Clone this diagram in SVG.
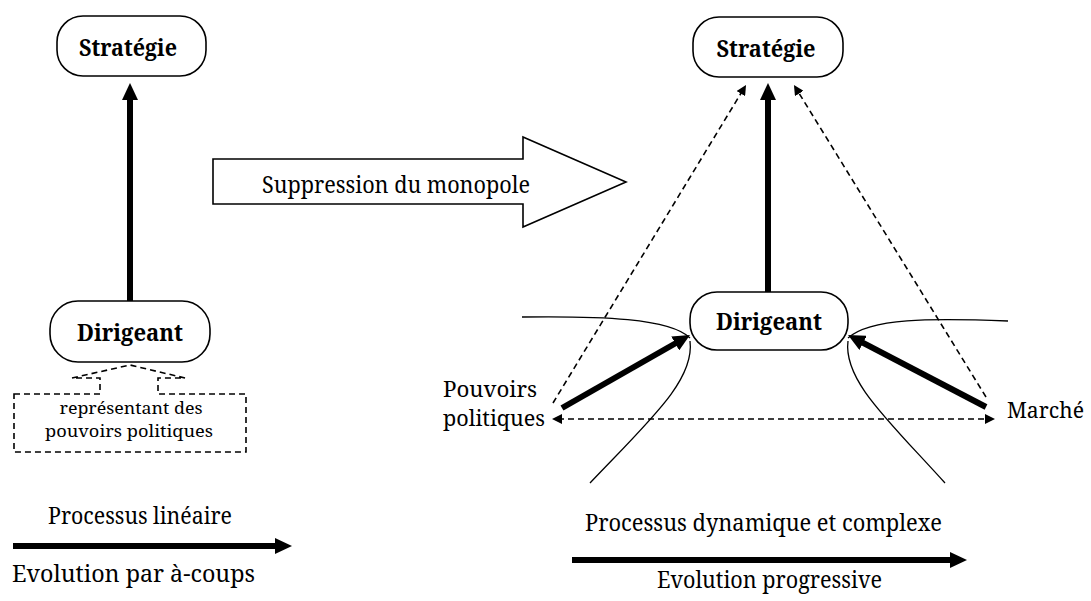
<svg xmlns="http://www.w3.org/2000/svg" width="1091" height="601" viewBox="0 0 1091 601">
<style>
.box{fill:#fff;stroke:#000;stroke-width:1.6}
.lbl{font-family:"Noto Serif","DejaVu Serif",serif;font-weight:bold;font-size:24px;text-anchor:middle;fill:#000}
.txt{font-family:"Noto Serif","DejaVu Serif",serif;font-size:23px;fill:#000}
.side{font-family:"Noto Serif","DejaVu Serif",serif;font-size:21px;fill:#000}
.small{font-family:"Noto Serif","DejaVu Serif",serif;font-size:17px;fill:#000;text-anchor:middle}
.thick{stroke:#000;stroke-width:6;fill:none}
.dash{stroke:#000;stroke-width:1.6;stroke-dasharray:6 4;fill:none}
.thin{stroke:#000;stroke-width:1.3;fill:none}
</style>
<defs>
<marker id="big" markerUnits="userSpaceOnUse" markerWidth="18" markerHeight="16" refX="7" refY="8" orient="auto">
<path d="M0,0 L17,8 L0,16 z" fill="#000"/>
</marker>
<marker id="sm" markerUnits="userSpaceOnUse" markerWidth="11" markerHeight="10" refX="4" refY="5" orient="auto-start-reverse">
<path d="M0,0 L10,5 L0,10 z" fill="#000"/>
</marker>
</defs>

<g id="connectors">
<line class="thick" x1="130" y1="301" x2="130" y2="93" marker-end="url(#big)"/>
<line class="thick" x1="768" y1="292" x2="768" y2="93" marker-end="url(#big)"/>
<line class="dash" x1="553" y1="403" x2="742.9" y2="90.1" marker-end="url(#sm)"/>
<line class="dash" x1="986" y1="397" x2="797.1" y2="90.1" marker-end="url(#sm)"/>
<line class="dash" x1="558" y1="419" x2="989" y2="419" marker-start="url(#sm)" marker-end="url(#sm)"/>
<line class="thick" x1="562" y1="408" x2="681.3" y2="340" marker-end="url(#big)"/>
<line class="thick" x1="986" y1="407" x2="856.9" y2="339.6" marker-end="url(#big)"/>
<path class="thin" d="M522,317 C600,316 670,318 690,338"/>
<path class="thin" d="M690,341 C695,380 650,420 590,483"/>
<path class="thin" d="M1008,321 C930,318 870,318 848,338"/>
<path class="thin" d="M848,341 C843,380 888,420 945,483"/>
<line class="thick" x1="13" y1="546" x2="282" y2="546" marker-end="url(#big)"/>
<line class="thick" x1="572" y1="560" x2="957" y2="560" marker-end="url(#big)"/>
</g>

<g id="block-arrow">
<path d="M213,159 L523,159 L523,137 L626,182 L523,227 L523,204 L213,204 Z" fill="#fff" stroke="#000" stroke-width="1.6"/>
<text class="txt" x="262" y="193" textLength="268" lengthAdjust="spacingAndGlyphs">Suppression du monopole</text>
</g>

<g id="strategie-left">
<rect class="box" x="57" y="16" width="149" height="60" rx="26"/>
<text class="lbl" x="128" y="56" textLength="98" lengthAdjust="spacingAndGlyphs">Stratégie</text>
</g>

<g id="dirigeant-left">
<rect class="box" x="50" y="301" width="160" height="61" rx="28"/>
<text class="lbl" x="130" y="341" textLength="106" lengthAdjust="spacingAndGlyphs">Dirigeant</text>
</g>

<g id="callout">
<path d="M14,394 L100,394 L100,378 L72,378 L130,365 L185,378 L158,378 L158,394 L246,394 L246,452 L14,452 Z" fill="#fff" stroke="#000" stroke-width="1.6" stroke-dasharray="6 4"/>
<text class="small" x="131" y="414" textLength="143" lengthAdjust="spacingAndGlyphs">représentant des</text>
<text class="small" x="129" y="437" textLength="168" lengthAdjust="spacingAndGlyphs">pouvoirs politiques</text>
</g>

<g id="strategie-right">
<rect class="box" x="693" y="17" width="150" height="60" rx="26"/>
<text class="lbl" x="766" y="57" textLength="99" lengthAdjust="spacingAndGlyphs">Stratégie</text>
</g>

<g id="dirigeant-right">
<rect class="box" x="690" y="292" width="158" height="58" rx="27"/>
<text class="lbl" x="769" y="330" textLength="106" lengthAdjust="spacingAndGlyphs">Dirigeant</text>
</g>

<g id="pouvoirs">
<text class="side" x="443" y="397" textLength="94" lengthAdjust="spacingAndGlyphs">Pouvoirs</text>
<text class="side" x="443" y="426" textLength="102" lengthAdjust="spacingAndGlyphs">politiques</text>
</g>

<g id="marche">
<text class="side" x="1007" y="418" textLength="77" lengthAdjust="spacingAndGlyphs">Marché</text>
</g>

<g id="labels">
<text class="txt" x="48" y="524" textLength="184" lengthAdjust="spacingAndGlyphs">Processus linéaire</text>
<text class="txt" x="12" y="582" textLength="243" lengthAdjust="spacingAndGlyphs">Evolution par à-coups</text>
<text class="txt" x="585" y="531" textLength="357" lengthAdjust="spacingAndGlyphs">Processus dynamique et complexe</text>
<text class="txt" x="657" y="588" textLength="225" lengthAdjust="spacingAndGlyphs">Evolution progressive</text>
</g>
</svg>
